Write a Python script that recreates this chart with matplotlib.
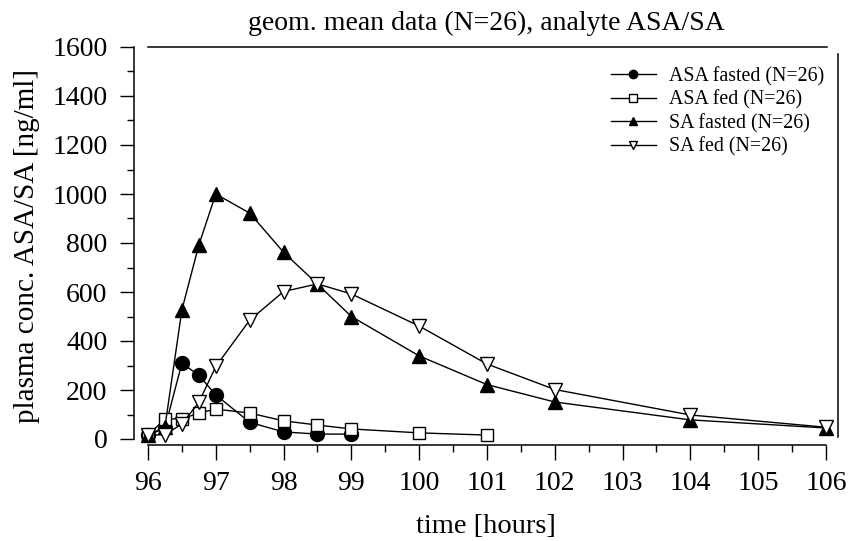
import matplotlib
matplotlib.use("Agg")
import matplotlib.pyplot as plt
from matplotlib.ticker import MultipleLocator

plt.rcParams["font.family"] = ["Liberation Serif", "DejaVu Serif"]

# sampling times [hours]
t_asa = [96, 96.25, 96.5, 96.75, 97, 97.5, 98, 98.5, 99]
t_asa_fed = [96, 96.25, 96.5, 96.75, 97, 97.5, 98, 98.5, 99, 100, 101]
t_sa = [96, 96.25, 96.5, 96.75, 97, 97.5, 98, 98.5, 99, 100, 101, 102, 104, 106]

asa_fasted = [15, 45, 310, 260, 180, 68, 29, 20, 20]
asa_fed = [15, 82, 82, 106, 122, 106, 74, 57, 41, 25, 16]
sa_fasted = [15, 50, 527, 792, 1000, 922, 762, 632, 500, 339, 222, 151, 78, 45]
sa_fed = [15, 18, 61, 150, 296, 485, 602, 633, 592, 461, 306, 202, 98, 48]

labels = ["ASA fasted (N=26)", "ASA fed (N=26)", "SA fasted (N=26)", "SA fed (N=26)"]

fig = plt.figure(figsize=(8.5, 5.41), dpi=100)
ax = fig.add_axes([134 / 850, 96 / 541, 704 / 850, 398 / 541])

kw = dict(color="black", lw=1.0, mec="black", mew=1.0, clip_on=False)
ax.plot(t_asa, asa_fasted, marker="o", ms=10, mfc="black", label=labels[0], **kw)
ax.plot(t_asa_fed, asa_fed, marker="s", ms=9, mfc="white", label=labels[1], **kw)
ax.plot(t_sa, sa_fasted, marker="^", ms=10, mfc="black", label=labels[2], **kw)
ax.plot(t_sa, sa_fed, marker="v", ms=10, mfc="white", label=labels[3], **kw)

px_x = 67.8
px_y = 392 / 1600
ax.set_xlim(96 - 14 / px_x, 106 + 12 / px_x)
ax.set_ylim(0 - 6 / px_y, 1600)

ax.spines["left"].set_bounds(0, 1600)
ax.spines["bottom"].set_bounds(96, 106)
ax.spines["top"].set_bounds(96, 106 + 1 / px_x)
ax.spines["right"].set_bounds(8, 1570)
for s in ax.spines.values():
    s.set_linewidth(1.1)

ax.xaxis.set_major_locator(MultipleLocator(1))
ax.xaxis.set_minor_locator(MultipleLocator(0.5))
ax.yaxis.set_major_locator(MultipleLocator(200))
ax.yaxis.set_minor_locator(MultipleLocator(100))
ax.tick_params(which="major", direction="out", width=1.0, labelsize=20)
ax.tick_params(which="minor", direction="out", length=5, width=1.0)
ax.tick_params(axis="x", which="major", length=11, pad=8)
ax.tick_params(axis="y", which="major", length=10, pad=9)

ax.set_xlabel("time [hours]", fontsize=20.5, labelpad=13)
ax.set_ylabel("plasma conc. ASA/SA [ng/ml]", fontsize=21, labelpad=9)
ax.set_title("geom. mean data (N=26), analyte ASA/SA", fontsize=20, pad=12, x=0.50)

leg = ax.legend(loc="upper right", bbox_to_anchor=(0.997, 0.98), frameon=False,
                fontsize=14.3, markerscale=0.6, handlelength=2.25, handletextpad=0.65,
                labelspacing=0.2, borderaxespad=0.2)

fig.savefig("out.png", dpi=100)
